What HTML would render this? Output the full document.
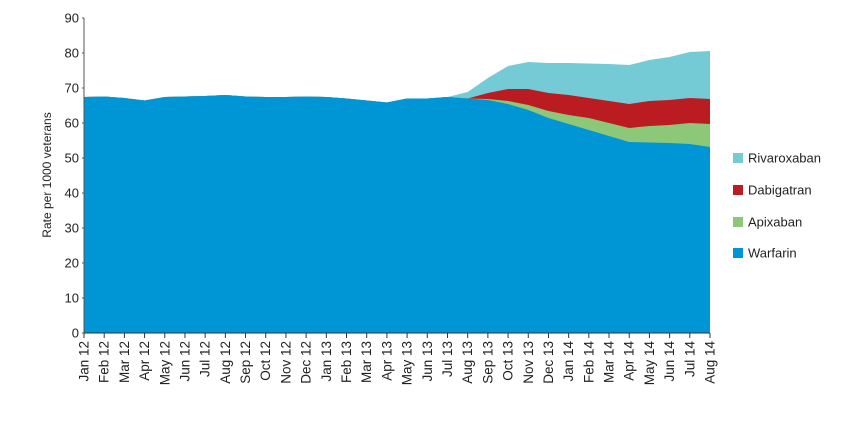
<!DOCTYPE html>
<html><head><meta charset="utf-8"><style>
body{margin:0;background:#fff;}
svg text{font-family:"Liberation Sans",sans-serif;fill:#222;}
</style></head><body>
<svg id="s" width="850" height="416" xmlns="http://www.w3.org/2000/svg"></svg>
<script>
const s=document.getElementById('s');let h='';
const X=i=>84+i*(626/31);
const W=[97,96.5,98,100.5,97,96.5,96,95,96.5,97,97,96.5,97,98.5,100.5,102.5,98.5,98.5,97,98.5,100,104,110,118,124,130,136,142,142.5,143,144,147];
const A=W.slice(0,20).concat([99,101,105,111,115,118,123,128,126,125,123,124]);
const D=W.slice(0,19).concat([98.5,93,89,89,93,95,98,101,104,101,100,98,99]);
const R=W.slice(0,18).concat([97,92,78,66,62,63,63,63.5,64,65,60,57,52,51]);
function area(top,c){let p=top.map((y,i)=>X(i).toFixed(1)+','+y).join(' ');p+=' 710,333 84,333';h+=`<polygon points="${p}" fill="${c}"/>`;}
area(R,'#74CBD6');area(D,'#BA1C22');area(A,'#8DC878');area(W,'#0096D6');
h+='<line x1="84" y1="18" x2="84" y2="333" stroke="#555" stroke-width="1"/>';
h+='<line x1="84" y1="333" x2="710" y2="333" stroke="#333" stroke-width="1"/>';
for(let v=0;v<=90;v+=10){const y=333-3.5*v;h+=`<text x="79" y="${y+4.5}" font-size="13" text-anchor="end">${v}</text><line x1="82" y1="${y}" x2="84" y2="${y}" stroke="#555"/>`;}
const m=['Jan','Feb','Mar','Apr','May','Jun','Jul','Aug','Sep','Oct','Nov','Dec'];
for(let i=0;i<32;i++){const x=X(i);const lab=m[i%12]+' '+(12+Math.floor(i/12));
h+=`<line x1="${x}" y1="333" x2="${x}" y2="338" stroke="#333"/>`;
h+=`<text transform="translate(${x+4.5},341) rotate(-90)" font-size="13.5" text-anchor="end">${lab}</text>`;}
h+='<text transform="translate(51,175) rotate(-90)" font-size="12" text-anchor="middle">Rate per 1000 veterans</text>';
const L=[['Rivaroxaban','#74CBD6',158],['Dabigatran','#BA1C22',190],['Apixaban','#8DC878',222],['Warfarin','#0096D6',253]];
for(const [t,c,y] of L){h+=`<rect x="733" y="${y-5}" width="10" height="10" fill="${c}"/><text x="748" y="${y+4.5}" font-size="13">${t}</text>`;}
s.innerHTML=h;
</script>
</body></html>
